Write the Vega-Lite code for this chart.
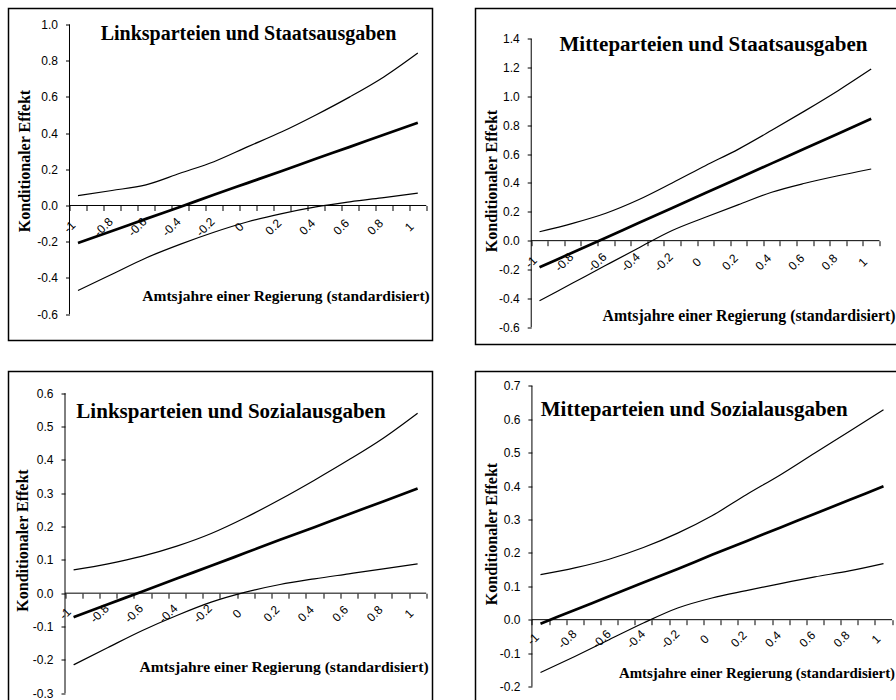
{
"$schema": "https://vega.github.io/schema/vega-lite/v6.json",
"padding": {"left": 7.5, "top": 7.5, "right": 0, "bottom": 0},
"background": "white",
"datasets": {
"p1": [
{"x":-1,"s":"hi","y":0.055},{"x":-0.8,"s":"hi","y":0.083},{"x":-0.6,"s":"hi","y":0.114},{"x":-0.4,"s":"hi","y":0.178},{"x":-0.2,"s":"hi","y":0.242},{"x":0,"s":"hi","y":0.325},{"x":0.2,"s":"hi","y":0.407},{"x":0.4,"s":"hi","y":0.5},{"x":0.6,"s":"hi","y":0.6},{"x":0.8,"s":"hi","y":0.71},{"x":1,"s":"hi","y":0.842},
{"x":-1,"s":"lo","y":-0.47},{"x":-0.8,"s":"lo","y":-0.38},{"x":-0.6,"s":"lo","y":-0.29},{"x":-0.4,"s":"lo","y":-0.215},{"x":-0.2,"s":"lo","y":-0.148},{"x":0,"s":"lo","y":-0.09},{"x":0.2,"s":"lo","y":-0.045},{"x":0.4,"s":"lo","y":-0.008},{"x":0.6,"s":"lo","y":0.02},{"x":0.8,"s":"lo","y":0.044},{"x":1,"s":"lo","y":0.068},
{"x":-1,"s":"est","y":-0.207},{"x":-0.8,"s":"est","y":-0.141},{"x":-0.6,"s":"est","y":-0.074},{"x":-0.4,"s":"est","y":-0.008},{"x":-0.2,"s":"est","y":0.059},{"x":0,"s":"est","y":0.125},{"x":0.2,"s":"est","y":0.191},{"x":0.4,"s":"est","y":0.258},{"x":0.6,"s":"est","y":0.324},{"x":0.8,"s":"est","y":0.391},{"x":1,"s":"est","y":0.457}
],
"p2": [
{"x":-1,"s":"hi","y":0.062},{"x":-0.8,"s":"hi","y":0.12},{"x":-0.6,"s":"hi","y":0.19},{"x":-0.4,"s":"hi","y":0.285},{"x":-0.2,"s":"hi","y":0.4},{"x":0,"s":"hi","y":0.52},{"x":0.2,"s":"hi","y":0.635},{"x":0.4,"s":"hi","y":0.765},{"x":0.6,"s":"hi","y":0.9},{"x":0.8,"s":"hi","y":1.04},{"x":1,"s":"hi","y":1.19},
{"x":-1,"s":"lo","y":-0.417},{"x":-0.8,"s":"lo","y":-0.294},{"x":-0.6,"s":"lo","y":-0.171},{"x":-0.4,"s":"lo","y":-0.049},{"x":-0.2,"s":"lo","y":0.07},{"x":0,"s":"lo","y":0.162},{"x":0.2,"s":"lo","y":0.25},{"x":0.4,"s":"lo","y":0.336},{"x":0.6,"s":"lo","y":0.398},{"x":0.8,"s":"lo","y":0.45},{"x":1,"s":"lo","y":0.497},
{"x":-1,"s":"est","y":-0.185},{"x":-0.8,"s":"est","y":-0.082},{"x":-0.6,"s":"est","y":0.021},{"x":-0.4,"s":"est","y":0.124},{"x":-0.2,"s":"est","y":0.227},{"x":0,"s":"est","y":0.33},{"x":0.2,"s":"est","y":0.433},{"x":0.4,"s":"est","y":0.536},{"x":0.6,"s":"est","y":0.639},{"x":0.8,"s":"est","y":0.742},{"x":1,"s":"est","y":0.845}
],
"p3": [
{"x":-1,"s":"hi","y":0.07},{"x":-0.8,"s":"hi","y":0.088},{"x":-0.6,"s":"hi","y":0.111},{"x":-0.4,"s":"hi","y":0.141},{"x":-0.2,"s":"hi","y":0.179},{"x":0,"s":"hi","y":0.227},{"x":0.2,"s":"hi","y":0.281},{"x":0.4,"s":"hi","y":0.339},{"x":0.6,"s":"hi","y":0.4},{"x":0.8,"s":"hi","y":0.465},{"x":1,"s":"hi","y":0.54},
{"x":-1,"s":"lo","y":-0.215},{"x":-0.8,"s":"lo","y":-0.163},{"x":-0.6,"s":"lo","y":-0.112},{"x":-0.4,"s":"lo","y":-0.067},{"x":-0.2,"s":"lo","y":-0.027},{"x":0,"s":"lo","y":0.003},{"x":0.2,"s":"lo","y":0.026},{"x":0.4,"s":"lo","y":0.043},{"x":0.6,"s":"lo","y":0.058},{"x":0.8,"s":"lo","y":0.073},{"x":1,"s":"lo","y":0.088},
{"x":-1,"s":"est","y":-0.072},{"x":-0.8,"s":"est","y":-0.033},{"x":-0.6,"s":"est","y":0.005},{"x":-0.4,"s":"est","y":0.044},{"x":-0.2,"s":"est","y":0.082},{"x":0,"s":"est","y":0.121},{"x":0.2,"s":"est","y":0.16},{"x":0.4,"s":"est","y":0.198},{"x":0.6,"s":"est","y":0.237},{"x":0.8,"s":"est","y":0.275},{"x":1,"s":"est","y":0.314}
],
"p4": [
{"x":-1,"s":"hi","y":0.135},{"x":-0.8,"s":"hi","y":0.155},{"x":-0.6,"s":"hi","y":0.181},{"x":-0.4,"s":"hi","y":0.216},{"x":-0.2,"s":"hi","y":0.259},{"x":0,"s":"hi","y":0.311},{"x":0.2,"s":"hi","y":0.374},{"x":0.4,"s":"hi","y":0.434},{"x":0.6,"s":"hi","y":0.499},{"x":0.8,"s":"hi","y":0.563},{"x":1,"s":"hi","y":0.628},
{"x":-1,"s":"lo","y":-0.158},{"x":-0.8,"s":"lo","y":-0.11},{"x":-0.6,"s":"lo","y":-0.06},{"x":-0.4,"s":"lo","y":-0.01},{"x":-0.2,"s":"lo","y":0.035},{"x":0,"s":"lo","y":0.065},{"x":0.2,"s":"lo","y":0.087},{"x":0.4,"s":"lo","y":0.108},{"x":0.6,"s":"lo","y":0.128},{"x":0.8,"s":"lo","y":0.146},{"x":1,"s":"lo","y":0.168},
{"x":-1,"s":"est","y":-0.012},{"x":-0.8,"s":"est","y":0.029},{"x":-0.6,"s":"est","y":0.07},{"x":-0.4,"s":"est","y":0.111},{"x":-0.2,"s":"est","y":0.152},{"x":0,"s":"est","y":0.194},{"x":0.2,"s":"est","y":0.235},{"x":0.4,"s":"est","y":0.276},{"x":0.6,"s":"est","y":0.317},{"x":0.8,"s":"est","y":0.358},{"x":1,"s":"est","y":0.399}
]
},
"spacing": 25,
"vconcat": [
{"spacing": 41, "hconcat": [
{
"width": 424, "height": 332,
"resolve": {"axis": {"x": "independent", "y": "independent"}},
"layer": [
{"data": {"name": "p1"},
 "mark": {"type": "line", "color": "black", "interpolate": "monotone"},
 "encoding": {
  "x": {"field": "x", "type": "quantitative", "scale": {"domain": [-1.409, 1.0865], "nice": false, "zero": false},
        "axis": {"orient": "bottom", "offset": -135, "values": [-1.05,-0.95,-0.85,-0.75,-0.65,-0.55,-0.45,-0.35,-0.25,-0.15,-0.05,0.05,0.15,0.25,0.35,0.45,0.55,0.65,0.75,0.85,0.95,1.05], "labels": false, "domain": false, "ticks": true, "tickSize": 5, "title": null}},
  "y": {"field": "y", "type": "quantitative", "scale": {"domain": [-0.7459, 1.0884], "nice": false, "zero": false},
        "axis": {"orient": "left", "offset": -61, "values": [-0.6,-0.4,-0.2,0,0.2,0.4,0.6,0.8,1.0], "domain": false, "tickSize": 4, "labelPadding": 8, "labelExpr": "replace(format(datum.value, '.1f'), '\u2212', '-')", "title": "Konditionaler Effekt", "titleX": -45, "titleY": 152, "titleAngle": 270, "titleAlign": "center", "titleBaseline": "middle"}},
  "strokeWidth": {"field": "s", "type": "nominal", "scale": {"type": "ordinal", "domain": ["est","hi","lo"], "range": [2.7, 1.2, 1.2]}, "legend": null}
 }},
{"data": {"values": [{}]},
 "mark": {"type": "rule", "color": "black", "strokeWidth": 1},
 "encoding": {"x": {"datum": -1.05, "type": "quantitative", "axis": null}, "y": {"datum": -0.6, "type": "quantitative", "axis": null}, "y2": {"datum": 1.0}}},
{"data": {"values": [{}]},
 "mark": {"type": "rule", "color": "black", "strokeWidth": 1},
 "encoding": {
  "x": {"datum": -1.05, "type": "quantitative",
        "axis": {"orient": "bottom", "offset": -135, "values": [-1,-0.8,-0.6,-0.4,-0.2,0,0.2,0.4,0.6,0.8,1], "ticks": false, "tickSize": 0, "domain": false, "labelAngle": -45, "labelAlign": "center", "labelBaseline": "middle", "labelPadding": 21, "labelOffset": -9, "labelOverlap": false, "labelFlush": false, "labelExpr": "replace(format(datum.value, '~g'), '\u2212', '-')", "title": "Amtsjahre einer Regierung (standardisiert)", "titleX": 277, "titleY": 90, "titleAlign": "center", "titleBaseline": "middle", "titleFontSize": 15.5}},
  "x2": {"datum": 1.05},
  "y": {"datum": 0, "type": "quantitative", "axis": null}}},
{"data": {"values": [{"t": "Linksparteien und Staatsausgaben"}]},
 "mark": {"type": "text", "font": "Liberation Serif", "fontWeight": "bold", "fontSize": 20, "align": "center", "baseline": "middle", "color": "black"},
 "encoding": {"x": {"datum": 0.0035, "type": "quantitative", "axis": null}, "y": {"datum": 0.95, "type": "quantitative", "axis": null}, "text": {"field": "t"}}}
]
},
{
"width": 428, "height": 336,
"resolve": {"axis": {"x": "independent", "y": "independent"}},
"layer": [
{"data": {"name": "p2"},
 "mark": {"type": "line", "color": "black", "interpolate": "monotone"},
 "encoding": {
  "x": {"field": "x", "type": "quantitative", "scale": {"domain": [-1.386, 1.1947], "nice": false, "zero": false},
        "axis": {"orient": "bottom", "offset": -103.8, "values": [-1.05,-0.95,-0.85,-0.75,-0.65,-0.55,-0.45,-0.35,-0.25,-0.15,-0.05,0.05,0.15,0.25,0.35,0.45,0.55,0.65,0.75,0.85,0.95,1.05], "labels": false, "domain": false, "ticks": true, "tickSize": 5, "title": null}},
  "y": {"field": "y", "type": "quantitative", "scale": {"domain": [-0.72, 1.61], "nice": false, "zero": false},
        "axis": {"orient": "left", "offset": -55.7, "values": [-0.6,-0.4,-0.2,0,0.2,0.4,0.6,0.8,1.0,1.2,1.4], "domain": false, "tickSize": 4, "labelPadding": 8, "labelExpr": "replace(format(datum.value, '.1f'), '\u2212', '-')", "title": "Konditionaler Effekt", "titleX": -40, "titleY": 172, "titleAngle": 270, "titleAlign": "center", "titleBaseline": "middle"}},
  "strokeWidth": {"field": "s", "type": "nominal", "scale": {"type": "ordinal", "domain": ["est","hi","lo"], "range": [2.7, 1.2, 1.2]}, "legend": null}
 }},
{"data": {"values": [{}]},
 "mark": {"type": "rule", "color": "black", "strokeWidth": 1},
 "encoding": {"x": {"datum": -1.05, "type": "quantitative", "axis": null}, "y": {"datum": -0.6, "type": "quantitative", "axis": null}, "y2": {"datum": 1.4}}},
{"data": {"values": [{}]},
 "mark": {"type": "rule", "color": "black", "strokeWidth": 1},
 "encoding": {
  "x": {"datum": -1.05, "type": "quantitative",
        "axis": {"orient": "bottom", "offset": -103.8, "values": [-1,-0.8,-0.6,-0.4,-0.2,0,0.2,0.4,0.6,0.8,1], "ticks": false, "tickSize": 0, "domain": false, "labelAngle": -45, "labelAlign": "center", "labelBaseline": "middle", "labelPadding": 21, "labelOffset": -9, "labelOverlap": false, "labelFlush": false, "labelExpr": "replace(format(datum.value, '~g'), '\u2212', '-')", "title": "Amtsjahre einer Regierung (standardisiert)", "titleX": 273, "titleY": 75, "titleAlign": "center", "titleBaseline": "middle", "titleFontSize": 15.8}},
  "x2": {"datum": 1.05},
  "y": {"datum": 0, "type": "quantitative", "axis": null}}},
{"data": {"values": [{"t": "Mitteparteien und Staatsausgaben"}]},
 "mark": {"type": "text", "font": "Liberation Serif", "fontWeight": "bold", "fontSize": 21, "align": "center", "baseline": "middle", "color": "black"},
 "encoding": {"x": {"datum": 0.049, "type": "quantitative", "axis": null}, "y": {"datum": 1.354, "type": "quantitative", "axis": null}, "text": {"field": "t"}}}
]
}
]},
{"spacing": 41, "hconcat": [
{
"width": 424, "height": 331,
"resolve": {"axis": {"x": "independent", "y": "independent"}},
"layer": [
{"data": {"name": "p3"},
 "mark": {"type": "line", "color": "black", "interpolate": "monotone"},
 "encoding": {
  "x": {"field": "x", "type": "quantitative", "scale": {"domain": [-1.3785, 1.0866], "nice": false, "zero": false},
        "axis": {"orient": "bottom", "offset": -109.3, "values": [-1.05,-0.95,-0.85,-0.75,-0.65,-0.55,-0.45,-0.35,-0.25,-0.15,-0.05,0.05,0.15,0.25,0.35,0.45,0.55,0.65,0.75,0.85,0.95,1.05], "labels": false, "domain": false, "ticks": true, "tickSize": 5, "title": null}},
  "y": {"field": "y", "type": "quantitative", "scale": {"domain": [-0.328, 0.665], "nice": false, "zero": false},
        "axis": {"orient": "left", "offset": -56.5, "values": [-0.3,-0.2,-0.1,0,0.1,0.2,0.3,0.4,0.5,0.6], "domain": false, "tickSize": 4, "labelPadding": 8, "labelExpr": "replace(format(datum.value, '.1f'), '\u2212', '-')", "title": "Konditionaler Effekt", "titleX": -42.8, "titleY": 168.5, "titleAngle": 270, "titleAlign": "center", "titleBaseline": "middle"}},
  "strokeWidth": {"field": "s", "type": "nominal", "scale": {"type": "ordinal", "domain": ["est","hi","lo"], "range": [2.7, 1.2, 1.2]}, "legend": null}
 }},
{"data": {"values": [{}]},
 "mark": {"type": "rule", "color": "black", "strokeWidth": 1},
 "encoding": {"x": {"datum": -1.05, "type": "quantitative", "axis": null}, "y": {"datum": -0.3, "type": "quantitative", "axis": null}, "y2": {"datum": 0.6}}},
{"data": {"values": [{}]},
 "mark": {"type": "rule", "color": "black", "strokeWidth": 1},
 "encoding": {
  "x": {"datum": -1.05, "type": "quantitative",
        "axis": {"orient": "bottom", "offset": -109.3, "values": [-1,-0.8,-0.6,-0.4,-0.2,0,0.2,0.4,0.6,0.8,1], "ticks": false, "tickSize": 0, "domain": false, "labelAngle": -45, "labelAlign": "center", "labelBaseline": "middle", "labelPadding": 20, "labelOffset": -9, "labelOverlap": false, "labelFlush": false, "labelExpr": "replace(format(datum.value, '~g'), '\u2212', '-')", "title": "Amtsjahre einer Regierung (standardisiert)", "titleX": 275, "titleY": 73.3, "titleAlign": "center", "titleBaseline": "middle", "titleFontSize": 15.6}},
  "x2": {"datum": 1.05},
  "y": {"datum": 0, "type": "quantitative", "axis": null}}},
{"data": {"values": [{"t": "Linksparteien und Sozialausgaben"}]},
 "mark": {"type": "text", "font": "Liberation Serif", "fontWeight": "bold", "fontSize": 21, "align": "center", "baseline": "middle", "color": "black"},
 "encoding": {"x": {"datum": -0.085, "type": "quantitative", "axis": null}, "y": {"datum": 0.545, "type": "quantitative", "axis": null}, "text": {"field": "t"}}}
]
},
{
"width": 428, "height": 331,
"resolve": {"axis": {"x": "independent", "y": "independent"}},
"layer": [
{"data": {"name": "p4"},
 "mark": {"type": "line", "color": "black", "interpolate": "monotone"},
 "encoding": {
  "x": {"field": "x", "type": "quantitative", "scale": {"domain": [-1.379, 1.1167], "nice": false, "zero": false},
        "axis": {"orient": "bottom", "offset": -82.8, "values": [-1.05,-0.95,-0.85,-0.75,-0.65,-0.55,-0.45,-0.35,-0.25,-0.15,-0.05,0.05,0.15,0.25,0.35,0.45,0.55,0.65,0.75,0.85,0.95,1.05], "labels": false, "domain": false, "ticks": true, "tickSize": 5, "title": null}},
  "y": {"field": "y", "type": "quantitative", "scale": {"domain": [-0.2479, 0.7428], "nice": false, "zero": false},
        "axis": {"orient": "left", "offset": -56.4, "values": [-0.2,-0.1,0,0.1,0.2,0.3,0.4,0.5,0.6,0.7], "domain": false, "tickSize": 4, "labelPadding": 8, "labelExpr": "replace(format(datum.value, '.1f'), '\u2212', '-')", "title": "Konditionaler Effekt", "titleX": -40.7, "titleY": 162, "titleAngle": 270, "titleAlign": "center", "titleBaseline": "middle"}},
  "strokeWidth": {"field": "s", "type": "nominal", "scale": {"type": "ordinal", "domain": ["est","hi","lo"], "range": [2.7, 1.2, 1.2]}, "legend": null}
 }},
{"data": {"values": [{}]},
 "mark": {"type": "rule", "color": "black", "strokeWidth": 1},
 "encoding": {"x": {"datum": -1.05, "type": "quantitative", "axis": null}, "y": {"datum": -0.2, "type": "quantitative", "axis": null}, "y2": {"datum": 0.7}}},
{"data": {"values": [{}]},
 "mark": {"type": "rule", "color": "black", "strokeWidth": 1},
 "encoding": {
  "x": {"datum": -1.05, "type": "quantitative",
        "axis": {"orient": "bottom", "offset": -82.8, "values": [-1,-0.8,-0.6,-0.4,-0.2,0,0.2,0.4,0.6,0.8,1], "ticks": false, "tickSize": 0, "domain": false, "labelAngle": -45, "labelAlign": "center", "labelBaseline": "middle", "labelPadding": 19, "labelOffset": -8, "labelOverlap": false, "labelFlush": false, "labelExpr": "replace(format(datum.value, '~g'), '\u2212', '-')", "title": "Amtsjahre einer Regierung (standardisiert)", "titleX": 281, "titleY": 53.5, "titleAlign": "center", "titleBaseline": "middle", "titleFontSize": 14.9}},
  "x2": {"datum": 1.05},
  "y": {"datum": 0, "type": "quantitative", "axis": null}}},
{"data": {"values": [{"t": "Mitteparteien und Sozialausgaben"}]},
 "mark": {"type": "text", "font": "Liberation Serif", "fontWeight": "bold", "fontSize": 21, "align": "center", "baseline": "middle", "color": "black"},
 "encoding": {"x": {"datum": -0.104, "type": "quantitative", "axis": null}, "y": {"datum": 0.629, "type": "quantitative", "axis": null}, "text": {"field": "t"}}}
]
}
]}
],
"config": {
 "view": {"stroke": "black", "strokeWidth": 1.5},
 "axis": {"grid": false, "labelFont": "Liberation Sans", "labelFontSize": 12, "labelColor": "black", "tickColor": "black", "tickWidth": 1, "domainColor": "black", "titleFont": "Liberation Serif", "titleFontWeight": "bold", "titleFontSize": 16, "titleColor": "black"}
}
}
